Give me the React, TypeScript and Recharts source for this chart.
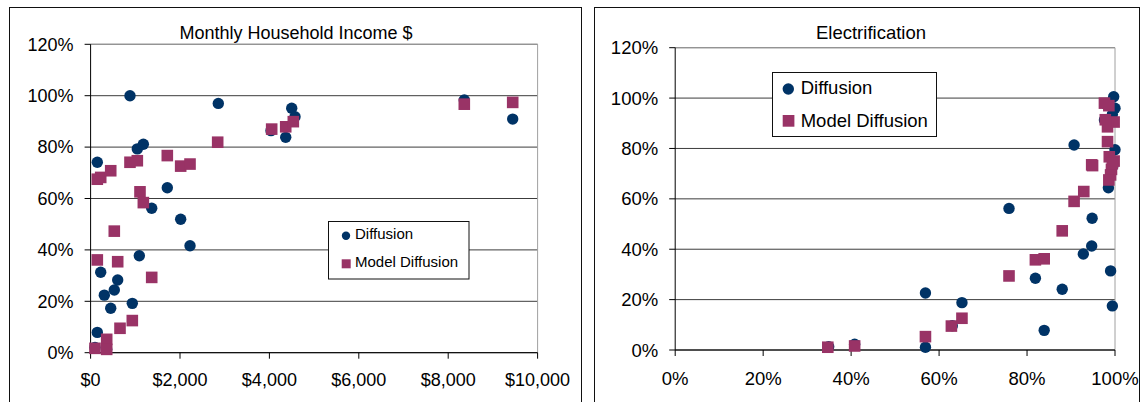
import { ScatterChart, Scatter, XAxis, YAxis, CartesianGrid, ReferenceLine } from "recharts"

const NAVY = "#003366"
const PLUM = "#993366"
const FONT = '"Liberation Sans", Arial, sans-serif'

// tick labels
const pctTicks = [0, 20, 40, 60, 80, 100, 120]
const incomeTicks = [0, 2000, 4000, 6000, 8000, 10000]
const elecTicks = [0, 20, 40, 60, 80, 100]

// monthly household income ($) vs diffusion (%)
const incomeDiffusion = [
  { x: 150, y: 74.1 }, { x: 881, y: 100 }, { x: 2857, y: 97.0 }, { x: 4036, y: 86.4 },
  { x: 4365, y: 83.8 }, { x: 4499, y: 95.1 }, { x: 4573, y: 91.8 }, { x: 8360, y: 98.3 },
  { x: 9443, y: 90.9 }, { x: 1045, y: 79.3 }, { x: 1180, y: 81.1 }, { x: 1716, y: 64.2 },
  { x: 1367, y: 56.2 }, { x: 2015, y: 51.9 }, { x: 2224, y: 41.6 }, { x: 1090, y: 37.7 },
  { x: 226, y: 31.3 }, { x: 606, y: 28.3 }, { x: 530, y: 24.4 }, { x: 307, y: 22.4 },
  { x: 450, y: 17.3 }, { x: 933, y: 19.2 }, { x: 150, y: 7.9 }, { x: 360, y: 1.3 },
  { x: 98, y: 2.0 },
]

const incomeModel = [
  { x: 98, y: 1.7 }, { x: 360, y: 5.2 }, { x: 360, y: 1.3 }, { x: 658, y: 9.5 },
  { x: 933, y: 12.5 }, { x: 150, y: 36.1 }, { x: 606, y: 35.4 }, { x: 530, y: 47.3 },
  { x: 1367, y: 29.3 }, { x: 150, y: 67.5 }, { x: 226, y: 68.2 }, { x: 450, y: 70.8 },
  { x: 881, y: 74.1 }, { x: 1045, y: 74.7 }, { x: 1105, y: 62.6 }, { x: 1180, y: 58.4 },
  { x: 1716, y: 76.7 }, { x: 2015, y: 72.6 }, { x: 2224, y: 73.4 }, { x: 2843, y: 81.9 },
  { x: 4051, y: 87.0 }, { x: 4365, y: 87.9 }, { x: 4535, y: 89.9 }, { x: 8360, y: 96.7 },
  { x: 9443, y: 97.4 },
]

// electrification (%) vs diffusion (%)
const elecDiffusion = [
  { x: 56.9, y: 1.1 }, { x: 56.9, y: 22.6 }, { x: 65.2, y: 18.8 }, { x: 40.8, y: 2.3 },
  { x: 75.9, y: 56.2 }, { x: 81.9, y: 28.5 }, { x: 83.9, y: 7.8 }, { x: 88.0, y: 24.1 },
  { x: 90.7, y: 81.4 }, { x: 92.8, y: 38.1 }, { x: 94.7, y: 41.3 }, { x: 94.8, y: 52.3 },
  { x: 98.5, y: 64.4 }, { x: 99.0, y: 31.4 }, { x: 99.4, y: 17.5 }, { x: 99.7, y: 100.5 },
  { x: 100, y: 96.0 }, { x: 97.6, y: 91.3 }, { x: 100, y: 79.5 }, { x: 98.8, y: 76.7 },
  { x: 99.4, y: 93.5 }, { x: 63.0, y: 9.6 }, { x: 34.9, y: 1.3 }, { x: 98.0, y: 97.5 },
  { x: 99.5, y: 73.0 },
]

const elecModel = [
  { x: 34.7, y: 1.1 }, { x: 40.8, y: 1.6 }, { x: 56.9, y: 5.3 }, { x: 62.8, y: 9.5 },
  { x: 65.2, y: 12.6 }, { x: 75.9, y: 29.4 }, { x: 81.9, y: 35.8 }, { x: 83.9, y: 36.2 },
  { x: 88.0, y: 47.3 }, { x: 90.7, y: 59.0 }, { x: 92.9, y: 62.9 }, { x: 94.7, y: 73.5 },
  { x: 94.9, y: 73.2 }, { x: 97.6, y: 98.0 }, { x: 98.6, y: 97.0 }, { x: 99.8, y: 90.5 },
  { x: 98.3, y: 88.6 }, { x: 98.3, y: 82.7 }, { x: 98.7, y: 76.7 }, { x: 99.8, y: 75.0 },
  { x: 99.2, y: 71.7 }, { x: 99.0, y: 69.5 }, { x: 98.6, y: 67.5 }, { x: 97.8, y: 91.4 },
  { x: 99.4, y: 74.0 },
]

const dot = (props: any) => <circle cx={props.cx} cy={props.cy} r={5.7} fill={NAVY} />
const square = (props: any) => (
  <rect x={props.cx - 5.8} y={props.cy - 5.8} width={11.6} height={11.6} fill={PLUM} />
)

const money = (v: number) => `$${v.toLocaleString("en-US")}`
const pct = (v: number) => `${v}%`

interface PanelProps {
  left: number
  width: number
  margin: { top: number; right: number; bottom: number; left: number }
  xMax: number
  xTicks: number[]
  xFormat: (v: number) => string
  fontSize: number
  xTickMargin: number
  actual: { x: number; y: number }[]
  model: { x: number; y: number }[]
}

function Panel({ left, width, margin, xMax, xTicks, xFormat, fontSize, xTickMargin, actual, model }: PanelProps) {
  const tick = { fill: "#000", fontSize, fontFamily: FONT }
  return (
    <div style={{ position: "absolute", left, top: 0 }}>
      <ScatterChart width={width} height={402} margin={margin}>
        <CartesianGrid vertical={false} stroke="#3c3c3c" />
        <ReferenceLine y={120} stroke="#a0a0a0" />
        <ReferenceLine x={xMax} stroke="#a0a0a0" />
        <XAxis
          type="number"
          dataKey="x"
          domain={[0, xMax]}
          ticks={xTicks}
          interval={0}
          tickFormatter={xFormat}
          tick={tick}
          tickSize={6}
          tickMargin={xTickMargin}
          height={30}
          axisLine={{ stroke: "#000" }}
          tickLine={{ stroke: "#000" }}
        />
        <YAxis
          type="number"
          dataKey="y"
          domain={[0, 120]}
          ticks={pctTicks}
          interval={0}
          tickFormatter={pct}
          tick={tick}
          tickSize={6}
          tickMargin={11}
          width={60}
          axisLine={{ stroke: "#000" }}
          tickLine={{ stroke: "#000" }}
        />
        <Scatter data={actual} shape={dot} isAnimationActive={false} />
        <Scatter data={model} shape={square} isAnimationActive={false} />
      </ScatterChart>
    </div>
  )
}

export default function App() {
  return (
    <div
      style={{
        position: "absolute",
        left: 0,
        top: 0,
        width: 1140,
        height: 402,
        overflow: "hidden",
        background: "#fff",
        fontFamily: FONT,
      }}
    >
      {/* frames */}
      <div style={{ position: "absolute", left: 9, top: 6.5, width: 572.5, height: 420, border: "1.5px solid #111", boxSizing: "border-box" }} />
      <div style={{ position: "absolute", left: 593.5, top: 6.5, width: 546, height: 420, border: "1.5px solid #111", boxSizing: "border-box" }} />

      <Panel
        left={0}
        width={580}
        margin={{ top: 44.3, right: 42.4, bottom: 19.3, left: 30.6 }}
        xMax={10000}
        xTicks={incomeTicks}
        xFormat={money}
        fontSize={18}
        xTickMargin={15}
        actual={incomeDiffusion}
        model={incomeModel}
      />
      <Panel
        left={590}
        width={550}
        margin={{ top: 47.7, right: 25, bottom: 22, left: 25.2 }}
        xMax={100}
        xTicks={elecTicks}
        xFormat={pct}
        fontSize={18.5}
        xTickMargin={16}
        actual={elecDiffusion}
        model={elecModel}
      />

      {/* titles */}
      <div style={{ position: "absolute", left: 0, top: 24, width: 592, textAlign: "center", fontSize: 18, lineHeight: "18px" }}>
        Monthly Household Income $
      </div>
      <div style={{ position: "absolute", left: 590, top: 24, width: 562, textAlign: "center", fontSize: 18.5, lineHeight: "18px" }}>
        Electrification
      </div>

      {/* legends */}
      <svg width={1140} height={402} style={{ position: "absolute", left: 0, top: 0, pointerEvents: "none" }}>
        <g fontFamily={FONT} fill="#000">
          <rect x={328.5} y={221.5} width={140.5} height={57.5} fill="#fff" stroke="#111" />
          <circle cx={346} cy={235.8} r={4.2} fill={NAVY} />
          <text x={355} y={239.3} fontSize={15}>Diffusion</text>
          <rect x={341.7} y={259.3} width={9} height={9} fill={PLUM} />
          <text x={355} y={266.7} fontSize={15}>Model Diffusion</text>

          <rect x={772.5} y={72.5} width={164} height={64} fill="#fff" stroke="#111" />
          <circle cx={788.3} cy={89} r={5.7} fill={NAVY} />
          <text x={800.7} y={94.3} fontSize={18.5}>Diffusion</text>
          <rect x={782.7} y={115} width={11.7} height={11.7} fill={PLUM} />
          <text x={800.7} y={126.7} fontSize={18.5}>Model Diffusion</text>
        </g>
      </svg>
    </div>
  )
}
